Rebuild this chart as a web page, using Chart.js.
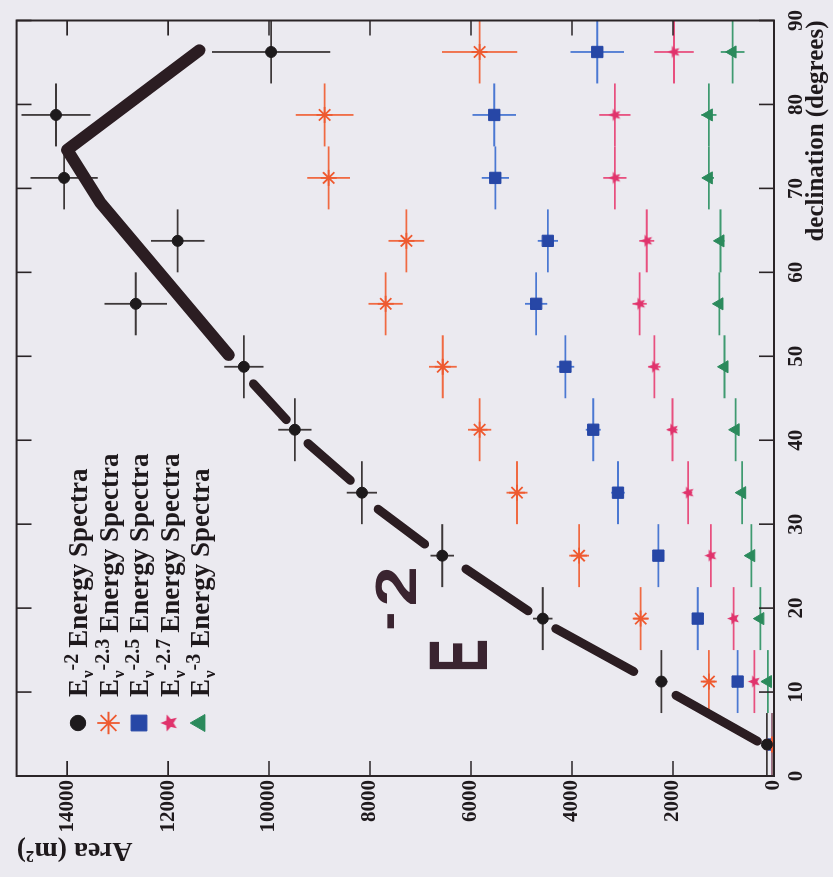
<!DOCTYPE html>
<html>
<head>
<meta charset="utf-8">
<script src="https://cdn.jsdelivr.net/npm/chart.js@4.4.1/dist/chart.umd.min.js"></script>
<style>
  html, body { margin: 0; padding: 0; background: #ebeaf0; overflow: hidden; }
  /* the plot is drawn landscape and turned a quarter turn */
  #wrap {
    position: absolute; left: 0; top: 0;
    width: 877px; height: 833px;
    transform-origin: 0 0;
    transform: translate(0, 877px) rotate(-90deg);
  }
</style>
</head>
<body>
<div id="wrap"><canvas id="chart" width="877" height="833"></canvas></div>
<script>
// declination bins (centres) and their half width
const declination = [3.75, 11.25, 18.75, 26.25, 33.75, 41.25, 48.75, 56.25, 63.75, 71.25, 78.75, 86.25];
const decHalfWidth = 3.75;

// effective area per spectral index, m^2
const spectra = ['-2', '-2.3', '-2.5', '-2.7', '-3'];
const areaE20 = [140, 2230, 4580, 6570, 8160, 9490, 10500, 12640, 11810, 14060, 14220, 9960];
const errE20 = [60, 120, 195, 235, 300, 330, 390, 620, 530, 665, 685, 1170];
const areaE23 = [40, 1290, 2640, 3860, 5090, 5830, 6560, 7690, 7280, 8820, 8900, 5830];
const errE23 = [40, 120, 140, 195, 210, 230, 275, 340, 355, 425, 570, 745];
const areaE25 = [30, 720, 1510, 2290, 3090, 3580, 4130, 4710, 4480, 5520, 5540, 3500];
const errE25 = [30, 80, 100, 110, 135, 150, 175, 220, 200, 270, 430, 530];
const areaE27 = [20, 390, 800, 1250, 1700, 2010, 2370, 2660, 2520, 3150, 3150, 1980];
const errE27 = [20, 50, 60, 70, 80, 100, 120, 140, 150, 230, 310, 390];
const areaE30 = [10, 120, 270, 450, 630, 760, 980, 1080, 1060, 1290, 1290, 820];
const errE30 = [10, 20, 25, 30, 35, 40, 50, 60, 80, 100, 150, 235];

// hand drawn E^-2 guide line (null = pen lifted)
const curveDec = [4.15, 9.61, 10.6, 12.45, 17.55, 18.6, 19.68, 24.66, 26.2, 27.63, 31.78, 33.5,
  35.22, 39.61, 41.0, 42.45, 46.72, 48.5, 50.16, 68.3, 74.59, 86.45];
const curveArea = [330, 1940, null, 2780, 4320, null, 4870, 6100, null, 6920, 7840, null,
  8390, 9230, null, 9660, 10310, null, 10800, 13340, 14000, 11380];

// axes
const decLabels = [0, 10, 20, 30, 40, 50, 60, 70, 80, 90];
const decMinorStep = 2;
const areaLabels = [0, 2000, 4000, 6000, 8000, 10000, 12000, 14000];
const areaMinorStep = 500;
const areaMax = 15000;

const ink = '#1e191c';
const serif = "'Liberation Serif', 'Times New Roman', serif";

function minorTicks(max, step) {
  const out = [];
  for (let v = 0; v <= max + 1e-9; v += step) out.push({ value: Math.round(v * 100) / 100 });
  return out;
}

function filledStar(r, color) {
  const c = document.createElement('canvas');
  const s = Math.ceil(r * 2 + 2);
  c.width = s; c.height = s;
  const g = c.getContext('2d');
  g.translate(s / 2, s / 2);
  g.beginPath();
  for (let k = 0; k < 10; k++) {
    const rr = k % 2 ? r * 0.45 : r;
    const a = -Math.PI / 2 + k * Math.PI / 5;
    g.lineTo(Math.cos(a) * rr, Math.sin(a) * rr);
  }
  g.closePath();
  g.fillStyle = color;
  g.fill();
  return c;
}

const pts = (ys) => declination.map((d, i) => ({ x: d, y: ys[i] }));

const series = [
  { area: areaE20, err: errE20, style: 'circle', r: 5.5, color: '#1d1a1c', errColor: '#3d3839', bw: 1 },
  { area: areaE23, err: errE23, style: 'star', r: 8, color: '#ee5a30', errColor: '#f06a42', bw: 1.8 },
  { area: areaE25, err: errE25, style: 'rect', r: 8, color: '#2747a6', errColor: '#4b78d2', bw: 1 },
  { area: areaE27, err: errE27, style: filledStar(6.5, '#e0336c'), legendStyle: filledStar(9, '#e0336c'), r: 6.5, color: '#e0336c', errColor: '#e8507f', bw: 1 },
  { area: areaE30, err: errE30, style: 'triangle', r: 7, color: '#2b8a5c', errColor: '#3f9a70', bw: 1 }
];

const datasets = series.map((s, i) => ({
  label: 'E' + spectra[i],
  exponent: spectra[i],
  data: pts(s.area),
  errArea: s.err,
  errColor: s.errColor,
  legendStyle: s.legendStyle,
  pointStyle: s.style,
  pointRadius: s.r,
  backgroundColor: s.color,
  borderColor: s.color,
  borderWidth: s.bw,
  showLine: false
}));

datasets.push({
  label: 'guide',
  data: curveDec.map((d, i) => ({ x: d, y: curveArea[i] })),
  showLine: true,
  spanGaps: false,
  pointRadius: 0,
  borderColor: '#2b1d22',
  borderWidth: 9,
  borderCapStyle: 'round',
  borderJoinStyle: 'round',
  segment: { borderWidth: (c) => (c.p0.parsed.x >= 50 ? 12 : 9) }
});

// error crosses under the markers
const errorBars = {
  id: 'errorBars',
  beforeDatasetsDraw(chart) {
    const { ctx, chartArea: a, scales: { x, y } } = chart;
    ctx.save();
    ctx.beginPath();
    ctx.rect(a.left, a.top, a.right - a.left, a.bottom - a.top);
    ctx.clip();
    ctx.lineWidth = 1.8;
    chart.data.datasets.forEach((ds) => {
      if (!ds.errArea) return;
      ctx.strokeStyle = ds.errColor;
      ds.data.forEach((p, i) => {
        const px = x.getPixelForValue(p.x);
        const py = y.getPixelForValue(p.y);
        ctx.beginPath();
        ctx.moveTo(x.getPixelForValue(p.x - decHalfWidth), py);
        ctx.lineTo(x.getPixelForValue(p.x + decHalfWidth), py);
        ctx.moveTo(px, y.getPixelForValue(p.y - ds.errArea[i]));
        ctx.lineTo(px, y.getPixelForValue(p.y + ds.errArea[i]));
        ctx.stroke();
      });
    });
    ctx.restore();
  }
};

// closed frame with inward ticks on all four sides
const frame = {
  id: 'frame',
  afterDraw(chart) {
    const { ctx, chartArea: a, scales: { x, y } } = chart;
    ctx.save();
    ctx.strokeStyle = '#2a2427';
    ctx.lineWidth = 1.6;
    ctx.beginPath();
    x.ticks.forEach((t) => {
      const px = x.getPixelForValue(t.value);
      const len = decLabels.includes(t.value) ? 15 : 7.5;
      ctx.moveTo(px, a.bottom); ctx.lineTo(px, a.bottom - len);
      ctx.moveTo(px, a.top); ctx.lineTo(px, a.top + len);
    });
    y.ticks.forEach((t) => {
      const py = y.getPixelForValue(t.value);
      const len = areaLabels.includes(t.value) ? 15 : 7.5;
      ctx.moveTo(a.left, py); ctx.lineTo(a.left + len, py);
      ctx.moveTo(a.right, py); ctx.lineTo(a.right - len, py);
    });
    ctx.stroke();
    ctx.lineWidth = 2;
    ctx.strokeRect(a.left, a.top, a.right - a.left, a.bottom - a.top);
    ctx.restore();
  }
};

// legend: E_nu^{index} Energy Spectra
const legendBox = {
  id: 'legendBox',
  afterDraw(chart) {
    const ctx = chart.ctx;
    const mx = 154, tx = 180, y0 = 78, dy = 30.5;
    ctx.save();
    ctx.textBaseline = 'alphabetic';
    ctx.textAlign = 'left';
    chart.data.datasets.filter((ds) => ds.exponent).forEach((ds, i) => {
      const cy = y0 + i * dy;
      ctx.fillStyle = ds.backgroundColor;
      ctx.strokeStyle = ds.borderColor;
      ctx.lineWidth = ds.borderWidth;
      Chart.helpers.drawPoint(ctx, {
        pointStyle: ds.legendStyle || ds.pointStyle,
        radius: ds.pointRadius * 1.4,
        borderWidth: ds.borderWidth,
        rotation: 0
      }, mx, cy);

      const by = cy + 9;
      ctx.fillStyle = ink;
      ctx.font = 'bold 27px ' + serif;
      ctx.fillText('E', tx, by);
      let x = tx + ctx.measureText('E').width + 1;
      ctx.font = 'bold 17px ' + serif;
      ctx.fillText('\u03bd', x, by + 6);
      x += ctx.measureText('\u03bd').width;
      ctx.font = 'bold 20px ' + serif;
      ctx.fillText(ds.exponent, x, by - 9);
      x += ctx.measureText(ds.exponent).width + 6;
      ctx.font = 'bold 27px ' + serif;
      ctx.fillText('Energy Spectra', x, by);
    });
    ctx.restore();
  }
};

// hand written "E^-2" next to the guide line
const markAt = { dec: 12.8, area: 5690 };
const handLabel = {
  id: 'handLabel',
  afterDatasetsDraw(chart) {
    const { ctx, scales: { x, y } } = chart;
    const px = x.getPixelForValue(markAt.dec);
    const py = y.getPixelForValue(markAt.area);
    ctx.save();
    ctx.fillStyle = '#3a2430';
    ctx.textBaseline = 'alphabetic';
    ctx.font = 'bold 84px "Liberation Sans", Arial, sans-serif';
    ctx.save();
    ctx.translate(px - 4, py);
    ctx.scale(0.6, 1);
    ctx.fillText('E', 0, 0);
    ctx.restore();
    ctx.font = 'bold 56px "Liberation Sans", Arial, sans-serif';
    ctx.fillText('-', px + 38, py - 82);
    ctx.save();
    ctx.translate(px + 62, py - 71);
    ctx.scale(1.25, 1);
    ctx.font = 'bold 58px "Liberation Sans", Arial, sans-serif';
    ctx.fillText('2', 0, 0);
    ctx.restore();
    ctx.restore();
  }
};

new Chart(document.getElementById('chart'), {
  type: 'scatter',
  data: { datasets },
  options: {
    responsive: false,
    animation: false,
    events: [],
    layout: { padding: { top: 7, right: 17, bottom: 0, left: 0 } },
    plugins: { legend: { display: false }, tooltip: { enabled: false } },
    scales: {
      x: {
        type: 'linear',
        min: 0,
        max: 90,
        afterBuildTicks: (s) => { s.ticks = minorTicks(90, decMinorStep); },
        afterFit: (s) => { s.height = 59; },
        grid: { display: false, drawTicks: false },
        border: { display: false },
        ticks: {
          autoSkip: false,
          maxRotation: 0,
          padding: 10,
          color: ink,
          font: { family: serif, size: 21, weight: 'bold' },
          callback: (v) => (decLabels.includes(v) ? String(v) : null)
        },
        title: {
          display: true,
          text: 'declination (degrees)',
          align: 'end',
          color: ink,
          padding: { top: 0, bottom: 1 },
          font: { family: serif, size: 25, weight: 'bold' }
        }
      },
      y: {
        type: 'linear',
        min: 0,
        max: areaMax,
        afterBuildTicks: (s) => { s.ticks = minorTicks(areaMax, areaMinorStep); },
        afterFit: (s) => { s.width = 101; },
        grid: { display: false, drawTicks: false },
        border: { display: false },
        ticks: {
          autoSkip: false,
          padding: 4,
          color: ink,
          font: { family: serif, size: 21, weight: 'bold' },
          callback: (v) => (areaLabels.includes(v) ? String(v) : null)
        },
        title: {
          display: true,
          text: 'Area (m\u00b2)',
          align: 'end',
          color: ink,
          padding: { top: 10, bottom: 0 },
          font: { family: serif, size: 28, weight: 'bold' }
        }
      }
    }
  },
  plugins: [errorBars, frame, legendBox, handLabel]
});
</script>
</body>
</html>
